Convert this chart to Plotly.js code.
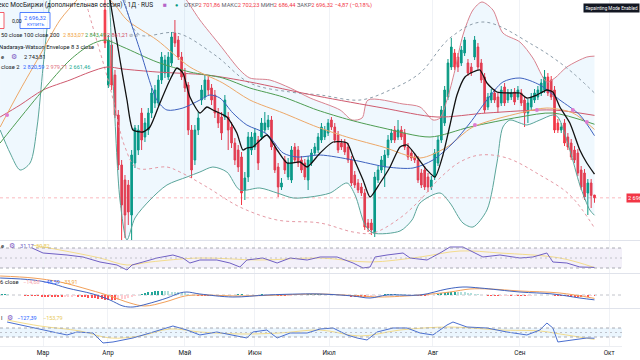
<!DOCTYPE html>
<html><head><meta charset="utf-8">
<script src="https://cdn.plot.ly/plotly-3.0.1.min.js"></script>
<style>html,body{margin:0;padding:0;background:#fff;overflow:hidden}#chart{width:640px;height:360px}</style>
</head><body><div id="chart"></div>
<script>
// ---------- DATA ----------
const monthTickPos = [-18.6, 0.9, 24.0, 45.0, 67.3, 98.5, 124.6, 151.4];
const monthLabels = ['Мар','Апр','Май','Июн','Июл','Авг','Сен','Окт'];

const openP = [3072,2922,3002,2942,2862,2762,2732,2722,2662,2766,2792,2866,2818,2832,2866,2886,2886,2932,2946,2938,
2966,3026,3012,2978,2946,2922,2832,2772,2832,2892,2898,2932,2916,2902,2866,2858,2858,2858,2838,2806,
2792,2778,2712,2738,2792,2798,2812,2818,2832,2838,2852,2798,2758,2718,2772,2738,2732,2798,2792,2772,
2766,2732,2766,2786,2792,2812,2818,2826,2852,2838,2822,2806,2806,2798,2772,2742,2726,2718,2706,2646,
2646,2626,2732,2752,2758,2782,2812,2832,2818,2832,2826,2798,2786,2778,2772,2746,2752,2738,2718,2738,
2766,2812,2846,2898,2958,2986,2978,2966,2986,2966,2958,2978,2998,2966,2938,2878,2892,2906,2898,2886,
2918,2892,2898,2908,2898,2906,2892,2866,2878,2892,2898,2906,2912,2938,2932,2912,2846,2832,2846,2818,
2806,2792,2786,2752,2746,2706,2726,2701.86];
const highP = [3092,3022,3012,2952,2872,2772,2742,2732,2792,2842,2842,2876,2856,2876,2916,2922,2942,2988,2982,2988,
3028,3052,3020,2988,2956,2928,2842,2842,2868,2922,2942,2940,2924,2912,2876,2868,2902,2868,2848,2816,
2802,2788,2748,2828,2828,2836,2820,2856,2868,2862,2860,2806,2766,2736,2780,2776,2800,2806,2800,2780,
2774,2780,2794,2806,2826,2846,2840,2854,2858,2846,2830,2814,2814,2806,2780,2750,2734,2726,2714,2654,
2654,2748,2760,2780,2792,2822,2834,2840,2852,2840,2834,2806,2794,2786,2780,2754,2760,2746,2740,2794,
2820,2880,2920,2974,3016,2994,2986,3000,3018,2974,2966,3020,3006,2974,2946,2906,2914,2914,2906,2920,
2926,2914,2914,2916,2920,2914,2900,2894,2906,2914,2920,2934,2952,2946,2940,2920,2854,2846,2854,2826,
2814,2800,2794,2760,2754,2734,2734,2702.23];
const lowP = [2996,2916,2912,2856,2752,2612,2616,2642,2612,2756,2782,2792,2808,2822,2856,2876,2880,2924,2936,2932,
2960,2998,2972,2932,2908,2822,2736,2762,2822,2882,2892,2902,2882,2856,2836,2812,2852,2792,2796,2762,
2748,2682,2692,2728,2782,2792,2752,2812,2826,2832,2792,2746,2698,2712,2744,2732,2726,2766,2758,2746,
2732,2712,2760,2780,2786,2806,2812,2820,2832,2806,2786,2792,2782,2766,2720,2716,2706,2700,2632,2628,
2622,2618,2726,2746,2718,2776,2806,2806,2812,2812,2792,2772,2770,2766,2726,2716,2712,2708,2712,2732,
2760,2806,2840,2892,2952,2952,2948,2960,2980,2940,2940,2972,2952,2926,2866,2872,2886,2886,2866,2880,
2880,2886,2892,2882,2892,2880,2838,2846,2872,2886,2892,2900,2906,2900,2892,2826,2826,2826,2800,2792,
2772,2766,2740,2712,2692,2662,2676,2686.44];
const closeP = [3006,3012,2922,2862,2762,2682,2662,2668,2782,2836,2832,2812,2846,2866,2906,2912,2932,2978,2972,2978,
3018,3006,2978,2938,2916,2832,2752,2832,2856,2912,2932,2912,2892,2866,2846,2826,2892,2832,2806,2772,
2758,2706,2736,2818,2818,2826,2766,2846,2846,2852,2798,2752,2718,2726,2752,2766,2792,2772,2766,2752,
2738,2772,2786,2798,2818,2838,2832,2846,2838,2812,2792,2798,2788,2772,2726,2722,2712,2706,2638,2636,
2632,2738,2752,2772,2782,2812,2826,2812,2832,2818,2798,2778,2776,2772,2732,2722,2718,2718,2732,2786,
2812,2872,2912,2966,2998,2958,2958,2992,3012,2946,2946,3012,2958,2932,2872,2898,2906,2892,2878,2912,
2886,2906,2906,2888,2912,2886,2866,2886,2898,2906,2912,2926,2938,2906,2898,2832,2832,2838,2806,2798,
2778,2772,2746,2718,2698,2726,2701.19,2696.32];

// Moving averages: bar index / price
const ma50X = [-31.5,-25.5,-19.5,-13.5,-8.4,-4.5,0,3,6.6,15.6,25.5,35.4,43.5,53.5,63.7,73.6,83.5,94.6,102.7,110.5,124.6,132.7,140.5,147];
const ma50Y = [2838,2912,2982,3052,3092,3122,3102,3082,3052,3012,2958,2926,2892,2866,2838,2816,2798,2776,2798,2838,2866,2876,2866,2833.07];
const ma100X = [-31.5,-25.5,-18.6,-10.5,-4.5,0,5.4,15.6,25.5,35.4,43.5,53.5,63.7,73.6,83.5,97.6,109.6,124.6,134.5,147];
const ma100Y = [2806,2856,2912,2972,3002,3012,2998,2968,2948,2936,2916,2898,2872,2852,2836,2818,2838,2858,2866,2843.49];
const ma200X = [-31.5,-25.5,-18.6,-10.5,-4.5,0.6,5.4,15.6,30.6,43.5,63.7,83.5,99.7,114.7,134.5,147];
const ma200Y = [2858,2882,2912,2932,2948,2958,2954,2948,2942,2928,2900,2876,2858,2866,2872,2861.21];

// Fast line (black)
const fastX = [0.9,1.5,4.5,6.6,8.4,11.4,13.5,16.5,19.5,21.6,23.4,25.5,28.5,30.6,32.4,36.6,39.6,41.4,42.6,44.4,48.6,51.7,54.7,58.6,60.7,64.6,68.5,72.7,74.5,77.5,79.6,82.6,85.6,88.6,90.7,93.7,96.7,99.1,101.5,103.6,105.7,108.1,110.5,112.6,114.7,117.7,121.6,124.6,126.7,129.7,132.7,134.5,136.6,139.6,142.6,144.7,147];
const fastY = [3112,3092,2972,2892,2832,2828,2838,2886,2932,2956,2946,2898,2866,2878,2872,2858,2826,2792,2796,2798,2822,2792,2766,2768,2758,2786,2808,2806,2778,2732,2698,2726,2758,2798,2802,2778,2752,2738,2782,2842,2902,2938,2948,2952,2926,2908,2906,2906,2896,2902,2912,2908,2878,2846,2792,2766,2743.81];

// Bollinger Bands
const bbMidX = [3.9,5.4,10.5,15.6,18.6,23.4,28.5,31.5,34.5,38.4,42.6,48.6,53.5,57.7,64.6,74.5,84.7,92.5,98.5,104.5,109.6,114.7,119.5,124.6,130.6,136.6,142.6,147];
const bbMidY = [3112,3092,2992,2892,2872,2876,2892,2902,2896,2866,2842,2824,2786,2778,2782,2772,2758,2756,2772,2806,2846,2892,2928,2936,2922,2892,2862,2820.59];
const bbUpX = [-31.5,-16.5,-4.5,0,13.5,22.5,25.5,28.5,34.5,40.5,43.5,49.5,55.6,61.6,70.6,74.2,77.2,79.0,89.5,94.6,98.5,100.6,102.7,105.1,107.5,110.5,113.2,116.5,119.5,124.6,128.5,132.7,135.1,138.7,144.7,147];
const bbUpY = [3500,3560,3560,3392,3252,3112,3082,3052,3002,2952,2936,2932,2916,2896,2872,2852,2856,2892,2884,2878,2852,2856,2892,2952,3022,3072,3088,3072,3026,3008,2976,2928,2936,2958,2978,2979.71];
const bbLoX = [-31.5,-28.5,-25.5,-22.5,-20.4,-18.6,-16.5,-13.5,-4.5,0,2.4,4.5,6.6,9,13.5,18.6,24.6,28.5,32.4,36.6,40.5,46.5,51.7,56.5,61.6,67.6,72.7,75.1,78.1,80.5,88.6,92.2,94.6,100.6,103.6,107.5,110.5,114.7,117.7,119.5,121.6,124.6,126.7,130.6,134.5,136,139.6,142.6,145.6,147];
const bbLoY = [2832,2786,2752,2766,2838,2958,3092,3252,3332,3212,2932,2692,2612,2656,2692,2722,2738,2748,2758,2748,2712,2716,2706,2696,2698,2706,2726,2702,2642,2626,2630,2652,2686,2706,2686,2646,2638,2672,2766,2838,2852,2846,2842,2852,2862,2858,2792,2722,2672,2661.46];

// Nadaraya-Watson envelope
const nwUpX = [4.5,7.5,10.5,21.6,33,43.5,55.6,64.6,76.6,85.6,94.6,103.6,113.5,128.5,138.7,147];
const nwUpY = [3152,3052,3022,3026,2982,2926,2908,2902,2892,2912,2946,3016,3048,3002,2956,2906];
const nwLoX = [-7.5,-4.5,1.5,6,9.6,18.6,22.5,30.6,40.5,51.7,64.6,74.5,80.5,88.6,94.6,100.6,106.6,112.6,120.7,130.6,139.6,147];
const nwLoY = [3132,3058,2918,2798,2756,2758,2748,2718,2678,2652,2646,2628,2626,2656,2692,2736,2768,2782,2776,2742,2702,2636];

// MA cross markers
const crossX = [-29.4,111.1,129.7,140.5,144.7];
const crossY = [2862,2842,2872,2872,2848];

// RSI
const rsiX = [-21.9,-18.6,-11.4,-6.6,-1.5,3.6,6.6,8.1,11.4,15.6,20.4,23.4,25.5,28.5,33.6,37.5,40.5,42.6,47.4,51.7,55.6,60.7,64.6,69.7,74.5,77.5,79.6,81.1,84.7,89.5,91.6,96.7,100.6,103.6,107.5,110.5,113.5,118.6,124.6,128.5,132.7,134.5,138.7,142.6,147];
const rsiY = [70,60,56,52,42,36,26,36,42,50,56,50,40,46,46,40,32,46,50,40,50,46,52,52,40,30,32,52,56,60,50,46,60,72,72,62,52,56,50,52,60,42,40,32,31.17];
const rsiSigX = [-21.9,-13.5,-1.5,6.6,13.5,28.5,46.5,64.6,79.6,94.6,106.6,118.6,136.6,147];
const rsiSigY = [76,66,50,36,42,50,46,50,42,52,64,60,50,30.82];

// MACD
const macdX = [-31.5,-21.6,-16.5,-11.4,-3.6,1.5,5.4,8.4,12.6,18.6,22.5,24.6,28.5,38.4,48.6,58.6,64.6,74.5,79.6,84.7,94.6,102.7,107.5,112.6,124.6,134.5,142.6,147];
const macdY = [170,150,120,70,10,-50,-110,-120,-90,-30,20,30,10,-20,0,10,10,-10,-30,0,0,60,80,70,30,10,-30,-48.59];
const macdSigX = [-31.5,-21.6,-13.5,-4.5,1.5,7.5,12,18,24,28.5,40.5,52.6,64.6,76.6,82.6,94.6,103.6,109.6,115.6,124.6,136.6,147];
const macdSigY = [190,170,130,50,-10,-80,-110,-70,-10,0,-10,0,10,-10,-20,0,30,60,60,40,20,-33.91];
const macdHistStart = -31;
const macdHist = [8,8,6,5,4,2,-2,-5,-8,-10,
-12,-14,-15,-16,-16,-17,-18,-18,-18,-17,
-16,-15,-14,-15,-18,-22,-26,-30,-34,-38,
-42,-46,-50,-52,-54,-50,-44,-36,-28,-18,
-8,2,12,20,26,32,36,38,40,38,
36,34,32,28,22,16,10,4,-2,-6,
-10,-12,-12,-10,-8,-6,-4,-2,0,2,
4,6,6,5,4,3,4,5,6,5,
3,1,-2,-5,-8,-9,-8,-6,-3,0,
3,5,7,8,9,10,10,9,8,6,
3,0,-4,-8,-12,-16,-19,-21,-22,-22,
-20,-16,-10,-4,2,7,11,14,15,14,
12,9,5,1,-3,-6,-8,-8,-6,-2,
4,10,17,24,29,32,33,32,30,26,
21,16,11,6,2,-2,-6,-8,-9,-9,
-8,-7,-6,-6,-5,-5,-6,-7,-6,-5,
-4,-3,-2,-1,0,-3,-6,-9,-11,-13,
-14,-15,-15,-16,-16,-15,-15,-14,-14.68];

// CCI
const cciX = [-29.4,-21.6,-15.6,-11.4,-8.4,-3.6,-0.6,2.4,8.4,13.5,20.4,24.6,28.5,33.6,38.4,42.6,44.4,48.6,51.7,55.6,60.7,64.6,68.5,72.7,75.7,78.7,81.7,86.5,90.7,94.6,98.5,102.7,104.5,108.7,114.7,120.7,126.7,130.6,132.7,134.5,136,140.5,144.7,147];
const cciY = [233,100,11,-55,11,-11,-233,-211,-122,-11,144,55,-55,11,-55,-122,11,55,-122,-11,-11,78,100,-55,-122,-166,11,100,100,-11,-55,166,233,122,100,11,-55,55,211,100,-211,-166,-122,-127.39];
const cciSigX = [-29.4,-19.5,-7.5,1.5,10.5,19.5,28.5,40.5,52.6,64.6,76.6,88.6,103.6,118.6,130.6,136.6,147];
const cciSigY = [277,144,33,-122,-78,78,11,-33,-11,55,-78,55,122,55,33,-33,-153.79];

// ---------- FIGURE ----------
const W = 622, H = 346; // plot area in px (margins l0 r18 t0 b14)
const px = v => v / W, py = v => (H - v) / H;
const barIdx = closeP.map((_, k) => k);
const histIdx = macdHist.map((_, k) => k + macdHistStart);
const histColors = macdHist.map((v, k) => {
  const prev = k > 0 ? macdHist[k - 1] : v;
  if (v >= 0) return v >= prev ? '#26a69a' : '#b2dfdb';
  return v <= prev ? '#ff5252' : '#ffcdd2';
});

function line(x, y, color, width, opts) {
  return Object.assign({type:'scatter', mode:'lines', x, y, xaxis:'x', yaxis:'y',
    line:{color, width, shape:'spline', smoothing:0.8}, hoverinfo:'skip'}, opts || {});
}

const traces = [
  line(bbUpX, bbUpY, '#d9828f', 1),
  line(bbLoX, bbLoY, '#5aa59a', 1, {fill:'tonexty', fillcolor:'rgba(33,150,243,0.07)'}),
  line(nwUpX, nwUpY, '#8d9daa', 1, {line:{color:'#8d9daa', width:1, dash:'3px,3px', shape:'spline'}}),
  line(nwLoX, nwLoY, '#e59aa5', 1, {line:{color:'#e59aa5', width:1, dash:'3px,3px', shape:'spline'}}),
  line(ma200X, ma200Y, '#cf5a6e', 1),
  line(ma100X, ma100Y, '#4e9d52', 1),
  line(ma50X, ma50Y, '#eda868', 1),
  line(bbMidX, bbMidY, '#3d61bf', 1),
  {type:'candlestick', x:barIdx, open:openP, high:highP, low:lowP, close:closeP, xaxis:'x', yaxis:'y',
   increasing:{line:{color:'#089981', width:1}, fillcolor:'#089981'},
   decreasing:{line:{color:'#f23645', width:1}, fillcolor:'#f23645'},
   whiskerwidth:0, hoverinfo:'skip'},
  line(fastX, fastY, '#111111', 1.3, {line:{color:'#111111', width:1.3, shape:'spline', smoothing:0.6}}),
  {type:'scatter', mode:'markers', x:crossX, y:crossY, xaxis:'x', yaxis:'y',
   marker:{color:'#e07bd0', size:4}, hoverinfo:'skip'},
  {type:'scatter', mode:'lines', x:rsiSigX, y:rsiSigY, xaxis:'x', yaxis:'y2', line:{color:'#f3dc8c', width:1, shape:'spline'}, hoverinfo:'skip'},
  {type:'scatter', mode:'lines', x:rsiX, y:rsiY, xaxis:'x', yaxis:'y2', line:{color:'#6f5fc4', width:1}, hoverinfo:'skip'},
  {type:'bar', x:histIdx, y:macdHist, xaxis:'x', yaxis:'y3', width:0.6, marker:{color:histColors, line:{width:0}}, hoverinfo:'skip'},
  {type:'scatter', mode:'lines', x:macdSigX, y:macdSigY, xaxis:'x', yaxis:'y3', line:{color:'#f2a05a', width:1, shape:'spline'}, hoverinfo:'skip'},
  {type:'scatter', mode:'lines', x:macdX, y:macdY, xaxis:'x', yaxis:'y3', line:{color:'#3f63c0', width:1, shape:'spline'}, hoverinfo:'skip'},
  {type:'scatter', mode:'lines', x:cciSigX, y:cciSigY, xaxis:'x', yaxis:'y4', line:{color:'#f3dc8c', width:1, shape:'spline'}, hoverinfo:'skip'},
  {type:'scatter', mode:'lines', x:cciX, y:cciY, xaxis:'x', yaxis:'y4', line:{color:'#4a6fd0', width:1}, hoverinfo:'skip'}
];

const F = 'Roboto, "Noto Sans", sans-serif';
function ann(x, y, text, color, size, extra) {
  return Object.assign({xref:'paper', yref:'paper', x:px(x), y:py(y), text, showarrow:false,
    xanchor:'left', yanchor:'middle', font:{family:F, size:size || 5.8, color:color || '#131722'}}, extra || {});
}
const R = '#f23645';
const sp = (c, t) => '<span style="color:' + c + '">' + t + '</span>';

const annotations = [
  ann(-16, 5, 'Индекс МосБиржи (дополнительная сессия) · 1Д · RUS', '#131722', 6.5),
  ann(161, 5, '■', '#b565c8', 6.5),
  ann(173, 5, '●', '#089981', 5.5),
  ann(182, 5, 'ОТКР' + sp(R,'2 701,86') + ' МАКС' + sp(R,'2 702,23') + ' МИН' + sp(R,'2 686,44') + ' ЗАКР' + sp(R,'2 696,32') + ' ' + sp(R,'−4,87 (−0,18%)'), '#5d606b', 5.7),
  ann(611, 7.5, 'Repainting Mode Enabled', '#ffffff', 4.6, {xanchor:'center', bgcolor:'#131722', borderpad:1.5}),
  ann(10, 21, '0,00', '#131722', 5.2),
  ann(35, 18, '2 696,32', '#2962ff', 5.8, {xanchor:'center'}),
  ann(35, 24.5, 'КУПИТЬ', '#2962ff', 4.4, {xanchor:'center'}),
  ann(-1, 35, '50 close 100 close 200', '#131722', 5.7),
  ann(61, 35, '2 833,07', '#f0a23a', 5.5),
  ann(83, 35, '2 843,49', '#3d9a41', 5.5),
  ann(105, 35, '2 861,21', '#d0455a', 5.5),
  ann(127, 35, '⊘ ⊘', '#787b86', 5.2),
  ann(-3, 47, 'Nadaraya-Watson Envelope 8 3 close', '#131722', 5.8),
  ann(-1, 57, 'e', '#131722', 5.8),
  ann(9, 57, '⚙', '#7e57c2', 7),
  ann(22, 57, '2 743,81', '#131722', 5.7),
  ann(-1, 67, 'close 2', '#131722', 5.8),
  ann(21, 67, '2 820,59', '#2962ff', 5.6),
  ann(44, 67, '2 979,71', '#e0707e', 5.6),
  ann(67, 67, '2 661,46', '#22ab94', 5.6),
  ann(-1, 246, 'e', '#131722', 5.8),
  ann(7, 246, '⚙', '#7e57c2', 7),
  ann(18, 246, '31,17', '#6f5fc4', 5.6),
  ann(34, 246, '30,82', '#e8c95a', 5.6),
  ann(-2, 282, '6 close', '#131722', 5.8),
  ann(21, 282, '−14,68', '#f7a6ae', 5.5),
  ann(41, 282, '−48,59', '#2962ff', 5.5),
  ann(59, 282, '−33,91', '#f0a23a', 5.5),
  ann(-1, 318, 'l', '#131722', 5.8),
  ann(5, 318, '⚙', '#7e57c2', 7),
  ann(15, 318, '−127,39', '#2962ff', 5.5),
  ann(41, 318, '−153,79', '#e8c95a', 5.5),
  {xref:'paper', yref:'y', x:px(626), y:2696.32, text:'2 696,32', showarrow:false, xanchor:'left', yanchor:'middle',
   bgcolor:R, borderpad:1, font:{family:F, size:5.6, color:'#ffffff'}}
];

const sepColor = '#e0e3eb';
const shapes = [
  {type:'rect', xref:'paper', yref:'paper', x0:px(20), x1:px(50), y0:py(28.5), y1:py(12.5), line:{color:'#2962ff', width:0.8}, fillcolor:'rgba(255,255,255,0.9)'},
  {type:'rect', xref:'paper', yref:'paper', x0:px(-30), x1:px(4), y0:py(28.5), y1:py(12.5), line:{color:R, width:0.8}, fillcolor:'rgba(255,255,255,0.9)'},
  {type:'line', xref:'paper', yref:'y', x0:0, x1:1, y0:2696.32, y1:2696.32, line:{color:'rgba(242,54,69,0.35)', width:1, dash:'dot'}, layer:'below'},
  {type:'line', xref:'paper', yref:'paper', x0:0, x1:1.03, y0:py(240.5), y1:py(240.5), line:{color:sepColor, width:1}},
  {type:'line', xref:'paper', yref:'paper', x0:0, x1:1.03, y0:py(273.5), y1:py(273.5), line:{color:sepColor, width:1}},
  {type:'line', xref:'paper', yref:'paper', x0:0, x1:1.03, y0:py(308.5), y1:py(308.5), line:{color:sepColor, width:1}},
  {type:'rect', xref:'paper', yref:'y2', x0:0, x1:1, y0:30, y1:70, fillcolor:'rgba(126,87,194,0.09)', line:{width:0}, layer:'below'},
  {type:'line', xref:'paper', yref:'y2', x0:0, x1:1, y0:70, y1:70, line:{color:'#9598a1', width:0.8, dash:'3px,3px'}},
  {type:'line', xref:'paper', yref:'y2', x0:0, x1:1, y0:50, y1:50, line:{color:'#b2b5be', width:0.8, dash:'2px,3px'}},
  {type:'line', xref:'paper', yref:'y2', x0:0, x1:1, y0:30, y1:30, line:{color:'#9598a1', width:0.8, dash:'3px,3px'}},
  {type:'line', xref:'paper', yref:'y3', x0:0, x1:1, y0:0, y1:0, line:{color:'#b2b5be', width:0.8, dash:'3px,3px'}, layer:'below'},
  {type:'rect', xref:'paper', yref:'y4', x0:0, x1:1, y0:-100, y1:100, fillcolor:'rgba(33,150,243,0.09)', line:{width:0}, layer:'below'},
  {type:'line', xref:'paper', yref:'y4', x0:0, x1:1, y0:100, y1:100, line:{color:'#9598a1', width:0.8, dash:'3px,3px'}},
  {type:'line', xref:'paper', yref:'y4', x0:0, x1:1, y0:0, y1:0, line:{color:'#b2b5be', width:0.8, dash:'2px,3px'}},
  {type:'line', xref:'paper', yref:'y4', x0:0, x1:1, y0:-100, y1:-100, line:{color:'#9598a1', width:0.8, dash:'3px,3px'}}
];

const yBase = {showticklabels:false, showgrid:false, zeroline:false, fixedrange:true, anchor:'x'};
const layout = {
  width:640, height:360, margin:{l:0, r:18, t:0, b:14},
  paper_bgcolor:'#ffffff', plot_bgcolor:'#ffffff', showlegend:false, bargap:0,
  xaxis:{range:[-31.53, 155.26], tickvals:monthTickPos, ticktext:monthLabels, showgrid:true, gridcolor:'#f0f2f6',
         zeroline:false, anchor:'y4', rangeslider:{visible:false}, ticks:'', showline:true, linecolor:'#eceef2',
         tickfont:{family:F, size:6.4, color:'#131722'}, fixedrange:true},
  yaxis:Object.assign({}, yBase, {domain:[py(240), 1], range:[2612, 3092]}),
  yaxis2:Object.assign({}, yBase, {domain:[py(273), py(241)], range:[20, 84]}),
  yaxis3:Object.assign({}, yBase, {domain:[py(308), py(274)], range:[-130, 210]}),
  yaxis4:Object.assign({}, yBase, {domain:[0, py(309)], range:[-300, 522]}),
  annotations, shapes
};

Plotly.newPlot('chart', traces, layout, {staticPlot:true, displayModeBar:false});
</script>
</body></html>
